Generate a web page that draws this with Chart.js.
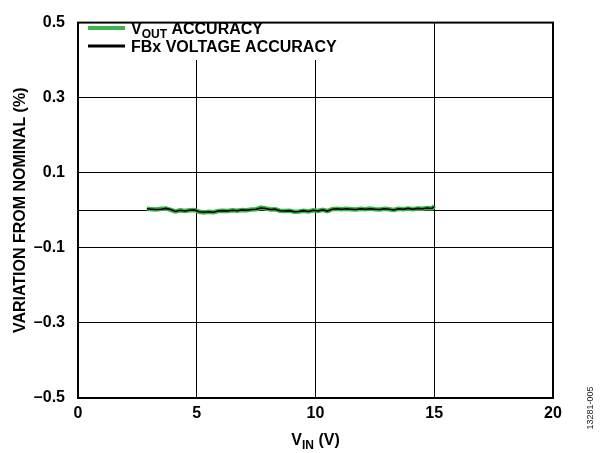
<!DOCTYPE html>
<html>
<head>
<meta charset="utf-8">
<script src="https://cdn.jsdelivr.net/npm/chart.js@4/dist/chart.umd.min.js"></script>
<style>
  html, body { margin: 0; padding: 0; background: #fff; }
  #wrap { position: relative; width: 600px; height: 453px; }
  canvas { display: block; }
</style>
</head>
<body>
<div id="wrap"><canvas id="c" width="600" height="453"></canvas></div>
<script>
// ---- data ----
const vin = [2.9,3.1,3.3,3.5,3.7,3.9,4.1,4.3,4.5,4.7,4.9,5.1,5.3,5.5,5.7,5.9,6.1,6.3,6.5,6.7,6.9,
  7.1,7.3,7.5,7.7,7.9,8.1,8.3,8.5,8.7,8.9,9.1,9.3,9.5,9.7,9.9,10.1,10.3,10.5,10.7,10.9,
  11.1,11.3,11.5,11.7,11.9,12.1,12.3,12.5,12.7,12.9,13.1,13.3,13.5,13.7,13.9,14.1,14.3,14.5,14.7,14.9,15.0];
const voutAccuracy = [0.004,0.003,0.002,0.004,0.005,0.001,-0.003,0.000,-0.002,0.000,0.001,
  -0.004,-0.006,-0.004,-0.005,-0.002,-0.001,-0.002,0.000,-0.001,0.001,
  0.000,0.002,0.003,0.007,0.005,0.002,0.003,-0.001,-0.002,-0.001,
  -0.004,-0.003,-0.001,-0.003,0.000,-0.002,0.001,-0.002,0.003,0.004,
  0.003,0.004,0.003,0.002,0.004,0.003,0.005,0.003,0.002,0.004,
  0.003,0.001,0.004,0.003,0.005,0.003,0.005,0.004,0.006,0.005,0.011];
const fbxAccuracy = [0.004,0.003,0.002,0.003,0.005,0.002,-0.003,0.000,-0.002,0.000,0.001,
  -0.004,-0.005,-0.004,-0.005,-0.002,-0.001,-0.002,0.000,-0.001,0.001,
  0.000,0.002,0.003,0.006,0.005,0.002,0.003,-0.001,-0.002,-0.001,
  -0.004,-0.003,-0.001,-0.003,0.000,-0.002,0.001,-0.002,0.003,0.004,
  0.003,0.004,0.003,0.002,0.004,0.003,0.004,0.003,0.002,0.004,
  0.003,0.001,0.004,0.003,0.005,0.003,0.005,0.004,0.006,0.005,0.010];
const yTickValues = [-0.5, -0.3, -0.1, 0, 0.1, 0.3, 0.5];
const xTickValues = [0, 5, 10, 15, 20];
const seriesNames = ['VOUT ACCURACY', 'FBx VOLTAGE ACCURACY'];

const FONT = "Arial, 'Liberation Sans', sans-serif";
const GREEN = '#3cb54a';

function fmtY(v) {
  if (Math.abs(v) < 1e-9) return '';
  const s = Math.abs(v).toFixed(1);
  return v < 0 ? '\u2013' + s : s;
}

// text with subscript helper
function drawSub(ctx, parts, x, y, size, align) {
  let total = 0;
  const widths = parts.map(p => {
    ctx.font = 'bold ' + (p[1] ? Math.round(size * 0.72) : size) + 'px ' + FONT;
    const w = ctx.measureText(p[0]).width;
    total += w;
    return w;
  });
  let cx = align === 'center' ? x - total / 2 : x;
  parts.forEach((p, i) => {
    ctx.font = 'bold ' + (p[1] ? Math.round(size * 0.72) : size) + 'px ' + FONT;
    ctx.textBaseline = 'alphabetic';
    ctx.textAlign = 'left';
    ctx.fillText(p[0], cx, y + (p[1] ? size * 0.25 : 0));
    cx += widths[i];
  });
}

const decor = {
  id: 'decor',
  afterDatasetsDraw(chart) {
    const ctx = chart.ctx;
    const a = chart.chartArea;
    ctx.save();
    // legend box
    ctx.fillStyle = '#fff';
    ctx.fillRect(a.left + 2, 19, 262, 41);
    // legend lines
    ctx.lineCap = 'butt';
    ctx.strokeStyle = GREEN; ctx.lineWidth = 4;
    ctx.beginPath(); ctx.moveTo(88, 28); ctx.lineTo(125, 28); ctx.stroke();
    ctx.strokeStyle = '#000'; ctx.lineWidth = 3;
    ctx.beginPath(); ctx.moveTo(88, 46); ctx.lineTo(125, 46); ctx.stroke();
    ctx.fillStyle = '#000';
    drawSub(ctx, [['V', false], ['OUT', true], [' ACCURACY', false]], 131, 34, 16, 'left');
    drawSub(ctx, [[seriesNames[1], false]], 131, 52, 16, 'left');
    // frame
    ctx.strokeStyle = '#000'; ctx.lineWidth = 2;
    ctx.strokeRect(a.left, a.top, a.right - a.left, a.bottom - a.top);
    // x title
    drawSub(ctx, [['V', false], ['IN', true], [' (V)', false]], (a.left + a.right) / 2, 445, 16, 'center');
    // figure code
    ctx.translate(591, 408);
    ctx.rotate(-Math.PI / 2);
    ctx.font = '9px ' + FONT;
    ctx.textAlign = 'center';
    ctx.textBaseline = 'middle';
    ctx.fillStyle = '#222';
    ctx.fillText('13281-005', 0, 0);
    ctx.restore();
  }
};

new Chart(document.getElementById('c'), {
  type: 'line',
  data: {
    datasets: [
      {
        label: seriesNames[1],
        data: vin.map((x, i) => ({ x: x, y: fbxAccuracy[i] })),
        borderColor: '#000', borderWidth: 1.6, pointRadius: 0, tension: 0, order: 0
      },
      {
        label: seriesNames[0],
        data: vin.map((x, i) => ({ x: x, y: voutAccuracy[i] })),
        borderColor: GREEN, borderWidth: 4.5, pointRadius: 0, tension: 0, order: 1
      }
    ]
  },
  options: {
    responsive: false,
    animation: false,
    devicePixelRatio: 1,
    layout: { padding: { top: 14, right: 47, left: 0, bottom: 0 } },
    plugins: { legend: { display: false }, tooltip: { enabled: false } },
    scales: {
      x: {
        type: 'linear', min: 0, max: 20,
        afterBuildTicks: s => { s.ticks = xTickValues.map(v => ({ value: v })); },
        afterFit: s => { s.height = 55; },
        grid: { color: '#000', lineWidth: 1, drawTicks: false },
        border: { display: false },
        ticks: { color: '#000', padding: 6, font: { family: FONT, size: 16, weight: 'bold' }, maxRotation: 0 }
      },
      y: {
        type: 'linear', min: -0.5, max: 0.5,
        afterBuildTicks: s => { s.ticks = yTickValues.map(v => ({ value: v })); },
        afterFit: s => { s.width = 78; },
        grid: { color: '#000', lineWidth: 1, drawTicks: false },
        border: { display: false },
        ticks: { color: '#000', padding: 13, callback: v => fmtY(v), font: { family: FONT, size: 16, weight: 'bold' } },
        title: { display: true, text: 'VARIATION FROM NOMINAL (%)', color: '#000', padding: { top: 11, bottom: 0 },
                 font: { family: FONT, size: 16, weight: 'bold' } }
      }
    }
  },
  plugins: [decor]
});
</script>
</body>
</html>
